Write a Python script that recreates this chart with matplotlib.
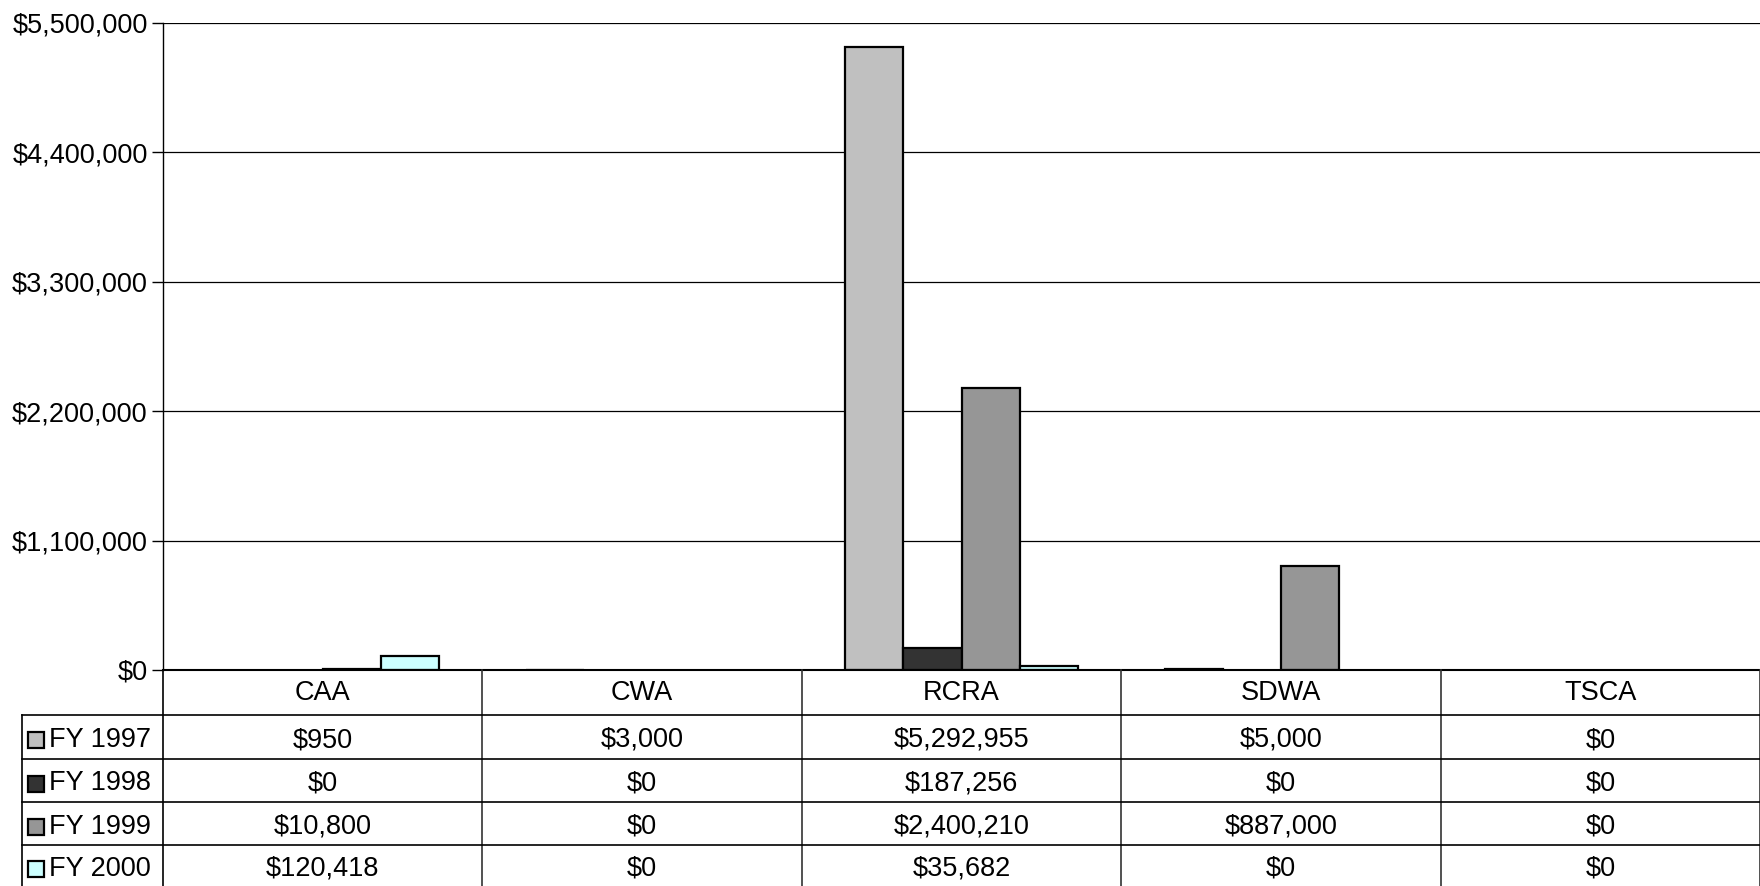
import numpy as np
import matplotlib
matplotlib.use("Agg")
import matplotlib.pyplot as plt
from matplotlib.patches import Rectangle

plt.rcParams['font.family'] = ['Liberation Sans', 'DejaVu Sans']

categories = ["CAA", "CWA", "RCRA", "SDWA", "TSCA"]
series_names = ["FY 1997", "FY 1998", "FY 1999", "FY 2000"]
fy1997 = [950, 3000, 5292955, 5000, 0]
fy1998 = [0, 0, 187256, 0, 0]
fy1999 = [10800, 0, 2400210, 887000, 0]
fy2000 = [120418, 0, 35682, 0, 0]
colors = ["#C0C0C0", "#333333", "#969696", "#CCFFFF"]
y_ticks = [0, 1100000, 2200000, 3300000, 4400000, 5500000]

all_series = [fy1997, fy1998, fy1999, fy2000]

W, H = 1760, 886
fig = plt.figure(figsize=(W / 100, H / 100), dpi=100)

# pixel layout
ax_left, ax_right, ax_top, ax_bottom = 163, 1760, 23, 670
leg_left = 22
fs = 19.5

ax = fig.add_axes([ax_left / W, (H - ax_bottom) / H,
                   (ax_right - ax_left) / W, (ax_bottom - ax_top) / H])

x = np.arange(len(categories))
bw = 1 / 5.5
px_per_val = (ax_bottom - ax_top) / y_ticks[-1]
for i, (vals, c) in enumerate(zip(all_series, colors)):
    # bars thinner than a fraction of a pixel are not drawn, like the original
    lw = [1.6 if v * px_per_val > 0.25 else 0 for v in vals]
    ax.bar(x + (i - 1.5) * bw, vals, width=bw, color=c,
           edgecolor="black", linewidth=lw, zorder=3)

ax.set_xlim(-0.5, len(categories) - 0.5)
ax.set_ylim(0, 5500000)
ax.set_yticks(y_ticks)
ax.set_yticklabels(["${:,.0f}".format(v) for v in y_ticks], fontsize=fs)
ax.yaxis.grid(True, color="black", linewidth=0.9)
ax.set_axisbelow(True)
ax.set_xticks([])
ax.tick_params(axis="y", length=8, width=1, pad=3)
for s in ["top", "right"]:
    ax.spines[s].set_visible(False)
ax.spines["left"].set_linewidth(1)
ax.spines["bottom"].set_linewidth(1.5)
ax.spines["bottom"].set_zorder(4)

# data table under the chart
tab_h = H - ax_bottom
tax = fig.add_axes([leg_left / W, 0, (ax_right - leg_left) / W, tab_h / H])
col_w = (ax_right - ax_left) / len(categories)
x_start = -0.5 - (ax_left - leg_left) / col_w
tax.set_xlim(x_start, len(categories) - 0.5)
tax.set_ylim(tab_h, 0)  # pixel rows, top down
tax.axis("off")

row_edges = [0, 45, 89, 132, 175, 216]
lc = "black"
for k in range(len(categories) + 1):
    tax.plot([k - 0.5, k - 0.5], [0, tab_h], color=lc if k == 0 else "#333333",
             linewidth=1.2, clip_on=False)
tax.plot([x_start, x_start], [row_edges[1], tab_h], color=lc, linewidth=1.2, clip_on=False)
for r in row_edges[1:-1]:
    tax.plot([x_start, len(categories) - 0.5], [r, r], color=lc, linewidth=1.2, clip_on=False)

hy = (row_edges[0] + row_edges[1]) / 2
for j, cat in enumerate(categories):
    tax.text(j, hy, cat, ha="center", va="center", fontsize=fs)

for i, (name, vals, c) in enumerate(zip(series_names, all_series, colors)):
    cy = (row_edges[i + 1] + row_edges[i + 2]) / 2 + 3
    tax.add_patch(Rectangle((x_start + 6 / col_w, cy - 8), 16 / col_w, 16,
                            facecolor=c, edgecolor="black", linewidth=1.6, clip_on=False))
    tax.text(x_start + 27 / col_w, cy, name, ha="left", va="center", fontsize=fs)
    for j, v in enumerate(vals):
        tax.text(j, cy, "${:,.0f}".format(v), ha="center", va="center", fontsize=fs)

fig.savefig("out.png", dpi=100)
